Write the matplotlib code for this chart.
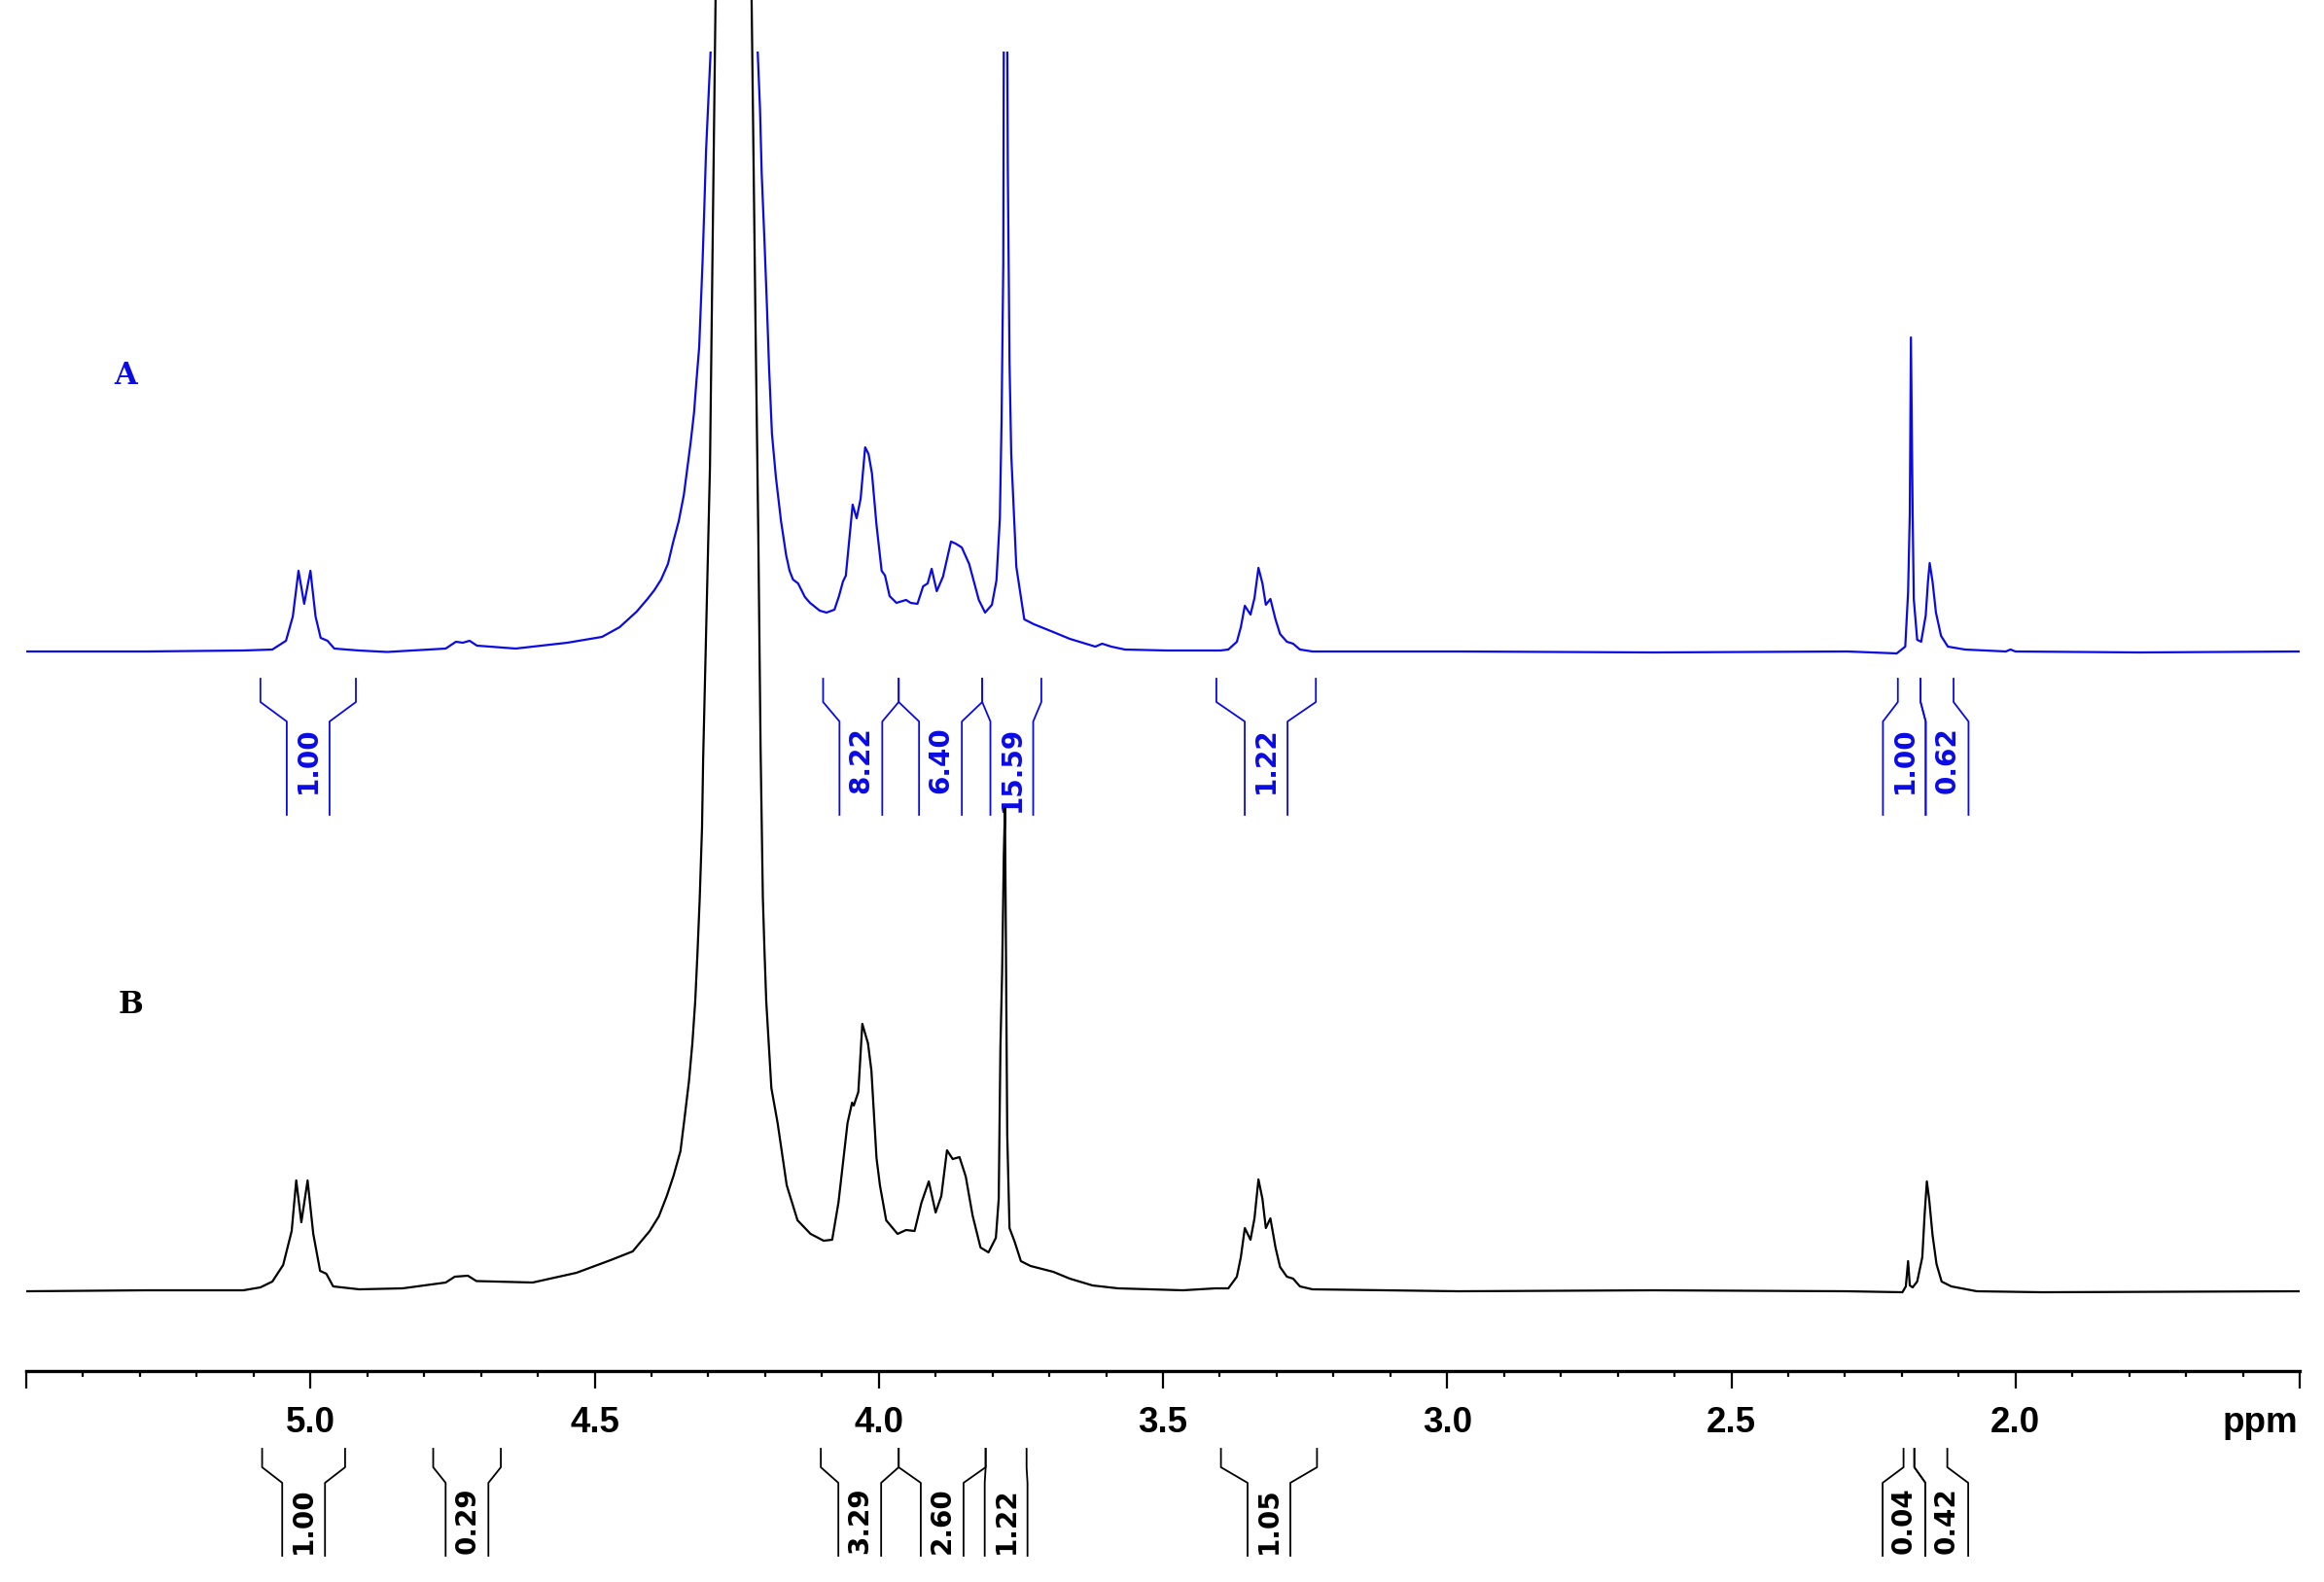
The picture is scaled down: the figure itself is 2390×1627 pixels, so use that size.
import matplotlib
matplotlib.use('Agg')
import matplotlib.pyplot as plt
from matplotlib.patches import Rectangle
import numpy as np

# ---- spectrum A (blue): (ppm, intensity) ----
spec_a = [
    (5.500, 2), (5.290, 2), (5.118, 3), (5.067, 4), (5.043, 13), (5.031, 38),
    (5.021, 85), (5.011, 51), (5.000, 85), (4.991, 38), (4.982, 16), (4.970, 13),
    (4.958, 5), (4.915, 3), (4.865, 1.5), (4.762, 5), (4.744, 12), (4.732, 11),
    (4.720, 13), (4.707, 8), (4.639, 5), (4.548, 11), (4.487, 17), (4.456, 27),
    (4.426, 43), (4.407, 56), (4.395, 65), (4.383, 76), (4.371, 92), (4.362, 114),
    (4.352, 136), (4.343, 163), (4.337, 190), (4.331, 217), (4.325, 248), (4.321, 279),
    (4.316, 315), (4.313, 360), (4.310, 404), (4.307, 458), (4.304, 516), (4.296, 618),
    (4.284, 900), (4.272, 1500), (4.255, 2600), (4.239, 1500), (4.227, 1000), (4.213, 618),
    (4.209, 560), (4.206, 493), (4.201, 422), (4.197, 360), (4.193, 293), (4.188, 226),
    (4.181, 181), (4.172, 136), (4.163, 101), (4.157, 85), (4.151, 76), (4.142, 72),
    (4.130, 58), (4.121, 52), (4.104, 44), (4.092, 42), (4.078, 45), (4.070, 59),
    (4.063, 74), (4.058, 80), (4.051, 122), (4.046, 153), (4.039, 139), (4.032, 159),
    (4.024, 212), (4.018, 205), (4.012, 185), (4.004, 132), (3.995, 85), (3.989, 80),
    (3.981, 59), (3.969, 52), (3.952, 55), (3.944, 52), (3.932, 51), (3.922, 69),
    (3.914, 72), (3.907, 87), (3.898, 64), (3.887, 79), (3.873, 115), (3.865, 113),
    (3.854, 109), (3.841, 92), (3.824, 55), (3.813, 42), (3.801, 50), (3.793, 75),
    (3.787, 139), (3.784, 239), (3.781, 400), (3.779, 900), (3.777, 1300), (3.776, 900),
    (3.773, 500), (3.770, 300), (3.767, 205), (3.758, 89), (3.744, 35), (3.727, 30),
    (3.693, 22), (3.664, 15), (3.619, 7), (3.607, 10), (3.591, 7), (3.567, 4),
    (3.493, 3), (3.399, 3), (3.385, 4), (3.370, 12), (3.363, 27), (3.356, 49),
    (3.346, 40), (3.339, 57), (3.332, 88), (3.325, 72), (3.319, 50), (3.311, 56),
    (3.302, 35), (3.294, 20), (3.282, 12), (3.271, 10), (3.259, 4), (3.237, 2),
    (2.980, 2), (2.638, 1), (2.296, 2), (2.209, 0), (2.194, 7), (2.189, 63),
    (2.186, 144), (2.184, 325), (2.181, 144), (2.179, 56), (2.173, 14), (2.166, 12),
    (2.158, 39), (2.154, 74), (2.151, 93), (2.146, 74), (2.140, 42), (2.131, 18),
    (2.119, 7), (2.089, 4), (2.017, 2), (2.009, 4), (2.000, 2), (1.782, 1),
    (1.500, 2),
]

# ---- spectrum B (black) ----
spec_b = [
    (5.500, 1), (5.290, 2), (5.118, 2), (5.088, 5), (5.067, 11), (5.048, 28),
    (5.033, 63), (5.025, 115), (5.016, 72), (5.005, 115), (4.995, 60), (4.983, 22),
    (4.972, 19), (4.960, 6), (4.914, 3), (4.838, 4), (4.762, 10), (4.746, 16),
    (4.723, 17), (4.708, 11.5), (4.609, 10), (4.532, 20), (4.472, 33), (4.433, 42),
    (4.403, 63), (4.387, 78), (4.373, 99), (4.361, 120), (4.349, 145), (4.342, 178),
    (4.334, 217), (4.328, 256), (4.323, 299), (4.319, 349), (4.315, 406), (4.311, 478),
    (4.309, 549), (4.297, 850), (4.287, 1340), (4.273, 2200), (4.255, 3200), (4.237, 2200),
    (4.224, 1340), (4.217, 1000), (4.212, 780), (4.208, 560), (4.204, 406), (4.201, 349),
    (4.198, 299), (4.189, 210), (4.178, 174), (4.162, 110), (4.143, 74), (4.120, 60),
    (4.097, 53), (4.082, 54), (4.071, 92), (4.055, 174), (4.047, 195), (4.044, 192),
    (4.036, 206), (4.029, 276), (4.019, 256), (4.013, 228), (4.004, 138), (3.998, 110),
    (3.987, 74), (3.967, 60), (3.952, 64), (3.937, 63), (3.925, 92), (3.912, 114),
    (3.900, 82), (3.890, 99), (3.880, 146), (3.870, 137), (3.858, 139), (3.847, 119),
    (3.835, 79), (3.821, 46), (3.807, 41), (3.794, 56), (3.789, 96), (3.786, 252),
    (3.783, 329), (3.780, 450), (3.778, 498), (3.776, 329), (3.774, 162), (3.770, 66),
    (3.761, 52), (3.750, 32), (3.733, 27), (3.693, 21), (3.664, 14), (3.624, 7),
    (3.579, 4), (3.465, 2), (3.408, 4), (3.385, 4), (3.370, 16), (3.363, 36),
    (3.356, 66), (3.346, 54), (3.339, 76), (3.332, 116), (3.325, 96), (3.319, 66),
    (3.311, 76), (3.302, 46), (3.294, 26), (3.282, 16), (3.271, 14), (3.259, 6),
    (3.237, 3), (2.980, 1), (2.638, 2), (2.296, 1), (2.199, 0), (2.193, 6),
    (2.189, 32), (2.186, 7), (2.181, 5), (2.173, 11), (2.164, 36), (2.160, 79),
    (2.156, 114), (2.152, 96), (2.146, 59), (2.139, 29), (2.130, 11), (2.113, 6),
    (2.068, 1), (1.953, 0), (1.500, 1),
]

# ---- integrals (ppm ranges and values) ----
int_a_from = [5.088, 4.098, 3.965, 3.818, 3.406, 2.207, 2.167]
int_a_to = [4.920, 3.965, 3.818, 3.714, 3.231, 2.167, 2.109]
int_a_vals = ['1.00', '8.22', '6.40', '15.59', '1.22', '1.00', '0.62']

int_b_from = [5.085, 4.784, 4.102, 3.965, 3.812, 3.398, 2.197, 2.178]
int_b_to = [4.939, 4.665, 3.965, 3.812, 3.740, 3.229, 2.178, 2.120]
int_b_vals = ['1.00', '0.29', '3.29', '2.60', '1.22', '1.05', '0.04', '0.42']

major_ticks = [5.5, 5.0, 4.5, 4.0, 3.5, 3.0, 2.5, 2.0, 1.5]
major_labels = ['', '5.0', '4.5', '4.0', '3.5', '3.0', '2.5', '2.0', '']

W, H = 2390, 1627
x0, x1 = 27, 2365
blue = '#0a0ae6'
sans = ['Liberation Sans', 'DejaVu Sans']
serif = ['DejaVu Serif']

fig = plt.figure(figsize=(W / 100, H / 100), dpi=100)
ax = fig.add_axes([x0 / W, 0, (x1 - x0) / W, 1])
ax.set_xlim(5.5, 1.5)
ax.set_ylim(H, 0)

base_a, base_b = 672, 1329

ppm_a, int_a = np.array(spec_a).T
ppm_b, int_b = np.array(spec_b).T

line_a, = ax.plot(ppm_a, base_a - int_a, color=blue, lw=1.6, zorder=3)
clip = Rectangle((1.5, 53), 4.0, H, transform=ax.transData)
line_a.set_clip_path(clip)
ax.plot(ppm_b, base_b - int_b, color='black', lw=1.6, zorder=4)

ax.text(5.325, 386, 'A', color=blue, fontsize=22, fontweight='bold',
        family=serif, ha='center', va='center')
ax.text(5.317, 1033, 'B', color='black', fontsize=22, fontweight='bold',
        family=serif, ha='center', va='center')

ppm_per_px = 4.0 / (x1 - x0)
inner_w = 44 * ppm_per_px


def integral_marks(starts, ends, labels, ys, text_y, color):
    top, bend1, bend2, bottom = ys
    n = len(starts)
    mid = [(s + e) / 2 for s, e in zip(starts, ends)]
    order = sorted(range(n), key=lambda i: -mid[i])
    groups = [[order[0]]]
    for i in order[1:]:
        if mid[groups[-1][-1]] - mid[i] < inner_w:
            groups[-1].append(i)
        else:
            groups.append([i])
    inner = {}
    for g in groups:
        c = (max(starts[i] for i in g) + min(ends[i] for i in g)) / 2
        left = c + len(g) * inner_w / 2
        for k, i in enumerate(g):
            inner[i] = (left - k * inner_w, left - (k + 1) * inner_w)
    for i in range(n):
        il, ir = inner[i]
        ax.plot([starts[i], starts[i], il, il], [top, bend1, bend2, bottom],
                color=color, lw=1.3, zorder=2)
        ax.plot([ends[i], ends[i], ir, ir], [top, bend1, bend2, bottom],
                color=color, lw=1.3, zorder=2)
        ax.text((il + ir) / 2, text_y, labels[i], rotation=90, rotation_mode='anchor',
                ha='right', va='center', color=color, fontsize=20, fontweight='bold',
                family=['DejaVu Sans'], zorder=2)


integral_marks(int_a_from, int_a_to, int_a_vals, (698, 722, 742, 838), 747, blue)
integral_marks(int_b_from, int_b_to, int_b_vals, (1490, 1509, 1525, 1600), 1529, 'black')

# ppm scale
for s in ['top', 'left', 'right']:
    ax.spines[s].set_visible(False)
ax.spines['bottom'].set_position(('data', 1410))
ax.spines['bottom'].set_linewidth(2.4)
ax.yaxis.set_visible(False)
ax.set_xticks(major_ticks, labels=major_labels)
ax.set_xticks(np.arange(15, 56) / 10, minor=True)
ax.tick_params(axis='x', which='major', direction='out', length=13, width=1.6,
               pad=13, labelsize=26.5)
ax.tick_params(axis='x', which='minor', direction='out', length=4.5, width=1.6)
for lab in ax.get_xticklabels():
    lab.set_fontweight('bold')
    lab.set_family(sans)
ax.text(1.503, 1473, 'ppm', ha='right', va='baseline', fontsize=26.5,
        fontweight='bold', family=sans)

fig.savefig('out.png', dpi=100)
